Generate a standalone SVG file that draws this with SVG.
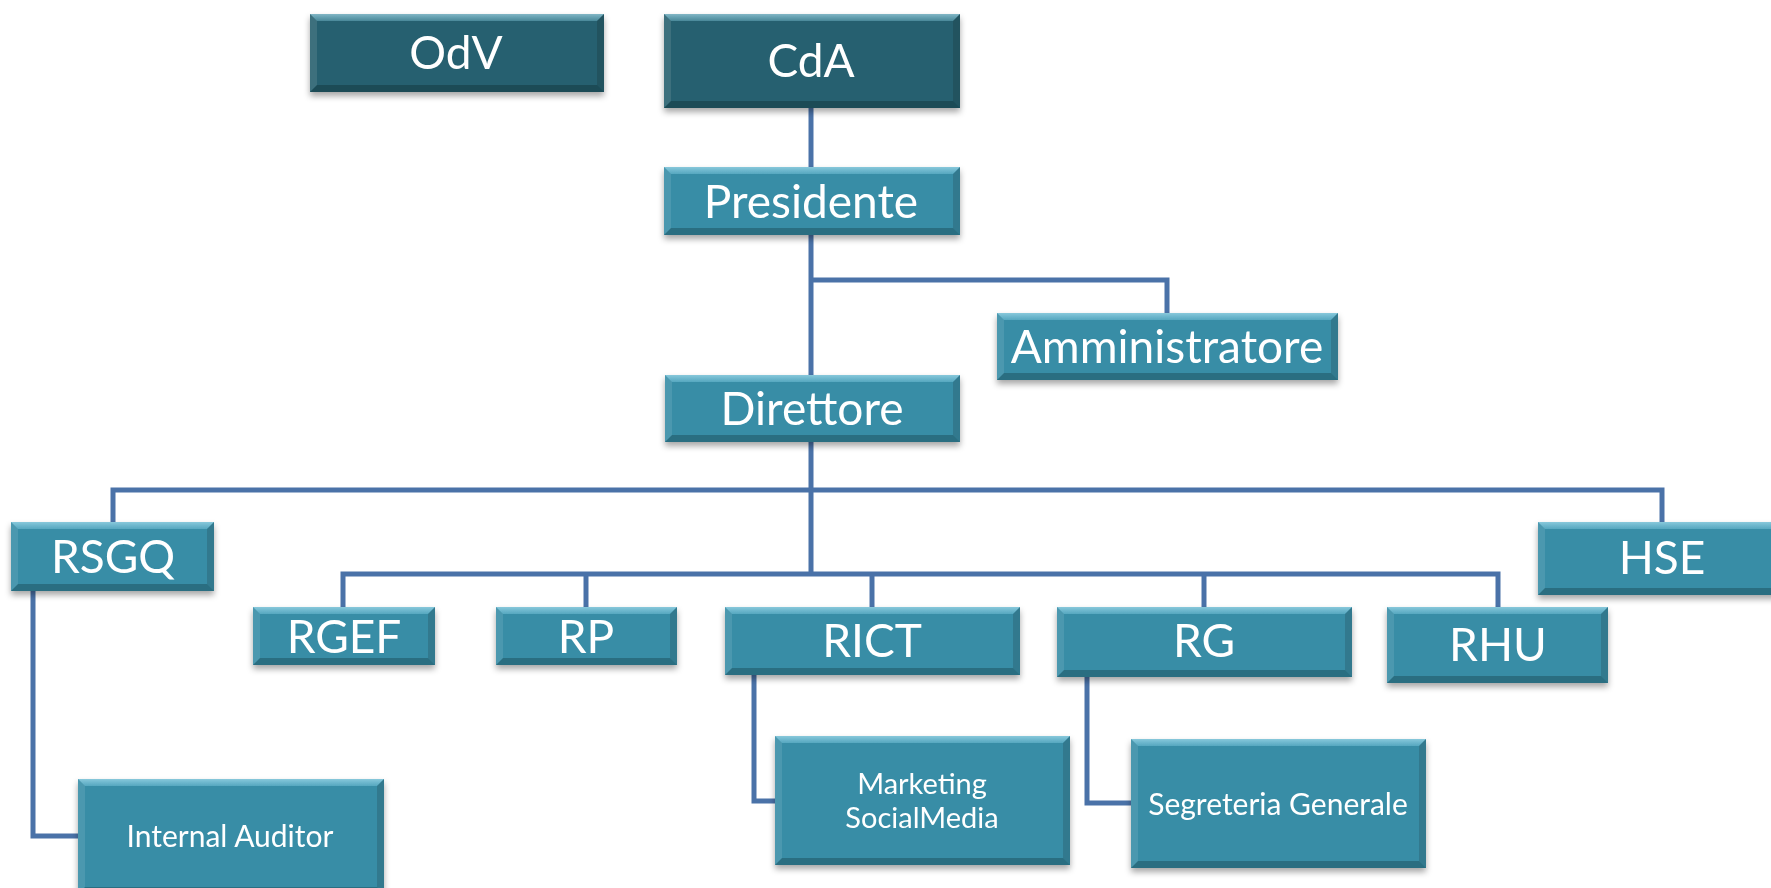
<svg xmlns="http://www.w3.org/2000/svg" width="1771" height="888" viewBox="0 0 1771 888">
<style>
.box{fill:#388da6;}
.dark{fill:#26606f;}
.bt{fill:url(#gTop);}
.bb{fill:#000;fill-opacity:0.22;}
.bl{fill:#fff;fill-opacity:0.10;}
.br{fill:#000;fill-opacity:0.14;}
.node{filter:url(#sh);}
.t{font-family:Lato,"Liberation Sans",sans-serif;fill:#fff;text-anchor:middle;dominant-baseline:central;font-size:46px;}
.s{font-size:30px;}
.m{font-size:29px;}
.c{fill:none;stroke:#4a72a8;stroke-width:5;stroke-linejoin:miter;}
</style>
<defs>
<linearGradient id="gTop" x1="0" y1="0" x2="0" y2="1">
<stop offset="0" stop-color="#bff0ff" stop-opacity="0.6"/>
<stop offset="1" stop-color="#9fe6fb" stop-opacity="0.3"/>
</linearGradient>
<filter id="sh" x="-10%" y="-10%" width="120%" height="140%">
<feDropShadow dx="0" dy="4" stdDeviation="3" flood-color="#000" flood-opacity="0.35"/>
</filter>
</defs>
<rect width="1771" height="888" fill="#fff"/>
<g id="connectors">
<path class="c" d="M811,108 V167"/>
<path class="c" d="M811,235 V375"/>
<path class="c" d="M811,280 H1167 V313"/>
<path class="c" d="M811,442 V574"/>
<path class="c" d="M113,522 V490 H1662 V522"/>
<path class="c" d="M343,607 V574 H1498 V607"/>
<path class="c" d="M586,574 V607"/>
<path class="c" d="M872,574 V607"/>
<path class="c" d="M1204,574 V607"/>
<path class="c" d="M33,591 V836 H78"/>
<path class="c" d="M754,675 V801 H775"/>
<path class="c" d="M1087,677 V803 H1131"/>
</g>
<g id="odv" class="node">
<rect class="dark" x="310" y="14" width="294" height="78"/>
<polygon class="bt" points="310,14 604,14 597,21 317,21"/><polygon class="bb" points="310,92 604,92 597,85 317,85"/><polygon class="bl" points="310,14 317,21 317,85 310,92"/><polygon class="br" points="604,14 604,92 597,85 597,21"/>
<text class="t" x="456" y="51">OdV</text>
</g>
<g id="cda" class="node">
<rect class="dark" x="664" y="14" width="296" height="94"/>
<polygon class="bt" points="664,14 960,14 953,21 671,21"/><polygon class="bb" points="664,108 960,108 953,101 671,101"/><polygon class="bl" points="664,14 671,21 671,101 664,108"/><polygon class="br" points="960,14 960,108 953,101 953,21"/>
<text class="t" x="811" y="59">CdA</text>
</g>
<g id="presidente" class="node">
<rect class="box" x="664" y="167" width="296" height="68"/>
<polygon class="bt" points="664,167 960,167 953,174 671,174"/><polygon class="bb" points="664,235 960,235 953,228 671,228"/><polygon class="bl" points="664,167 671,174 671,228 664,235"/><polygon class="br" points="960,167 960,235 953,228 953,174"/>
<text class="t" x="811" y="200">Presidente</text>
</g>
<g id="amministratore" class="node">
<rect class="box" x="997" y="313" width="341" height="67"/>
<polygon class="bt" points="997,313 1338,313 1331,320 1004,320"/><polygon class="bb" points="997,380 1338,380 1331,373 1004,373"/><polygon class="bl" points="997,313 1004,320 1004,373 997,380"/><polygon class="br" points="1338,313 1338,380 1331,373 1331,320"/>
<text class="t" x="1167" y="345">Amministratore</text>
</g>
<g id="direttore" class="node">
<rect class="box" x="665" y="375" width="295" height="67"/>
<polygon class="bt" points="665,375 960,375 953,382 672,382"/><polygon class="bb" points="665,442 960,442 953,435 672,435"/><polygon class="bl" points="665,375 672,382 672,435 665,442"/><polygon class="br" points="960,375 960,442 953,435 953,382"/>
<text class="t" x="812" y="407">Direttore</text>
</g>
<g id="rsgq" class="node">
<rect class="box" x="11" y="522" width="203" height="69"/>
<polygon class="bt" points="11,522 214,522 207,529 18,529"/><polygon class="bb" points="11,591 214,591 207,584 18,584"/><polygon class="bl" points="11,522 18,529 18,584 11,591"/><polygon class="br" points="214,522 214,591 207,584 207,529"/>
<text class="t" x="113" y="555">RSGQ</text>
</g>
<g id="hse" class="node">
<rect class="box" x="1538" y="522" width="250" height="73"/>
<polygon class="bt" points="1538,522 1788,522 1781,529 1545,529"/><polygon class="bb" points="1538,595 1788,595 1781,588 1545,588"/><polygon class="bl" points="1538,522 1545,529 1545,588 1538,595"/><polygon class="br" points="1788,522 1788,595 1781,588 1781,529"/>
<text class="t" x="1662" y="556">HSE</text>
</g>
<g id="rgef" class="node">
<rect class="box" x="253" y="607" width="182" height="58"/>
<polygon class="bt" points="253,607 435,607 428,614 260,614"/><polygon class="bb" points="253,665 435,665 428,658 260,658"/><polygon class="bl" points="253,607 260,614 260,658 253,665"/><polygon class="br" points="435,607 435,665 428,658 428,614"/>
<text class="t" x="344" y="635">RGEF</text>
</g>
<g id="rp" class="node">
<rect class="box" x="496" y="607" width="181" height="58"/>
<polygon class="bt" points="496,607 677,607 670,614 503,614"/><polygon class="bb" points="496,665 677,665 670,658 503,658"/><polygon class="bl" points="496,607 503,614 503,658 496,665"/><polygon class="br" points="677,607 677,665 670,658 670,614"/>
<text class="t" x="586" y="635">RP</text>
</g>
<g id="rict" class="node">
<rect class="box" x="725" y="607" width="295" height="68"/>
<polygon class="bt" points="725,607 1020,607 1013,614 732,614"/><polygon class="bb" points="725,675 1020,675 1013,668 732,668"/><polygon class="bl" points="725,607 732,614 732,668 725,675"/><polygon class="br" points="1020,607 1020,675 1013,668 1013,614"/>
<text class="t" x="872" y="639">RICT</text>
</g>
<g id="rg" class="node">
<rect class="box" x="1057" y="607" width="295" height="70"/>
<polygon class="bt" points="1057,607 1352,607 1345,614 1064,614"/><polygon class="bb" points="1057,677 1352,677 1345,670 1064,670"/><polygon class="bl" points="1057,607 1064,614 1064,670 1057,677"/><polygon class="br" points="1352,607 1352,677 1345,670 1345,614"/>
<text class="t" x="1204" y="639">RG</text>
</g>
<g id="rhu" class="node">
<rect class="box" x="1387" y="607" width="221" height="76"/>
<polygon class="bt" points="1387,607 1608,607 1601,614 1394,614"/><polygon class="bb" points="1387,683 1608,683 1601,676 1394,676"/><polygon class="bl" points="1387,607 1394,614 1394,676 1387,683"/><polygon class="br" points="1608,607 1608,683 1601,676 1601,614"/>
<text class="t" x="1498" y="643">RHU</text>
</g>
<g id="internal-auditor" class="node">
<rect class="box" x="78" y="779" width="306" height="115"/>
<polygon class="bt" points="78,779 384,779 377,786 85,786"/><polygon class="bb" points="78,894 384,894 377,887 85,887"/><polygon class="bl" points="78,779 85,786 85,887 78,894"/><polygon class="br" points="384,779 384,894 377,887 377,786"/>
<text class="t s" x="230" y="835">Internal Auditor</text>
</g>
<g id="marketing" class="node">
<rect class="box" x="775" y="736" width="295" height="129"/>
<polygon class="bt" points="775,736 1070,736 1063,743 782,743"/><polygon class="bb" points="775,865 1070,865 1063,858 782,858"/><polygon class="bl" points="775,736 782,743 782,858 775,865"/><polygon class="br" points="1070,736 1070,865 1063,858 1063,743"/>
<text class="t m" x="922" y="782">Marketing</text>
<text class="t m" x="922" y="816">SocialMedia</text>
</g>
<g id="segreteria" class="node">
<rect class="box" x="1131" y="739" width="295" height="129"/>
<polygon class="bt" points="1131,739 1426,739 1419,746 1138,746"/><polygon class="bb" points="1131,868 1426,868 1419,861 1138,861"/><polygon class="bl" points="1131,739 1138,746 1138,861 1131,868"/><polygon class="br" points="1426,739 1426,868 1419,861 1419,746"/>
<text class="t s" x="1278" y="803">Segreteria Generale</text>
</g>
</svg>
